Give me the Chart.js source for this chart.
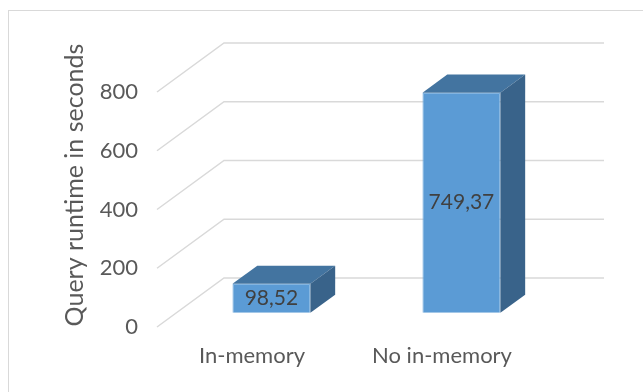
<!DOCTYPE html>
<html>
<head>
<meta charset="utf-8">
<script src="https://cdn.jsdelivr.net/npm/chart.js@4.4.0/dist/chart.umd.min.js"></script>
<style>
  body { margin: 0; background: #fff; overflow: hidden; }
  #wrap { position: relative; width: 643px; height: 392px; }
  #frame { position: absolute; left: 8px; top: 10px; width: 700px; height: 500px; border: 1px solid #d9d9d9; }
  canvas { position: absolute; left: 0; top: 0; }
</style>
</head>
<body>
<div id="wrap">
  <div id="frame"></div>
  <canvas id="myChart" width="643" height="392"></canvas>
</div>
<script>
// Query runtime data
const categories = ['In-memory', 'No in-memory'];
const runtimes = [98.52, 749.37];
const yTicks = [0, 200, 400, 600, 800];
const axisTitle = 'Query runtime in seconds';

// 3D look: depth of the floor, and where the bars sit inside it (0 = front, 1 = back wall)
const depth = { x: 67, y: -49 };
const barFront = 0.29;
const barBack = 0.66;

const font = 'Lato, "Open Sans", sans-serif';
const textGray = '#595959';

function formatValue(v) {
    return v.toFixed(2).replace('.', ',');
}

// Draws the walls, the axis title and the top/side faces of the bars
const box3d = {
    id: 'box3d',
    beforeDatasetsDraw(chart) {
        const { ctx, chartArea, scales } = chart;
        ctx.save();
        ctx.strokeStyle = '#d9d9d9';
        ctx.lineWidth = 1.5;
        yTicks.forEach(v => {
            const py = scales.y.getPixelForValue(v);
            ctx.beginPath();
            ctx.moveTo(chartArea.left, py);
            ctx.lineTo(chartArea.left + depth.x, py + depth.y);
            ctx.lineTo(chartArea.right + depth.x, py + depth.y);
            ctx.stroke();
        });

        // axis title, centred on the whole 3D height
        const midY = (chartArea.top + depth.y + chartArea.bottom) / 2;
        ctx.translate(75, midY);
        ctx.rotate(-Math.PI / 2);
        ctx.fillStyle = textGray;
        ctx.font = '25px ' + font;
        ctx.textAlign = 'center';
        ctx.textBaseline = 'middle';
        ctx.fillText(axisTitle, 0, 0);
        ctx.restore();

        // push the bars back into the box
        ctx.save();
        ctx.translate(depth.x * barFront, depth.y * barFront);
    },
    afterDatasetsDraw(chart) {
        const { ctx } = chart;
        const dx = depth.x * (barBack - barFront);
        const dy = depth.y * (barBack - barFront);
        chart.getDatasetMeta(0).data.forEach((bar, i) => {
            const l = bar.x - bar.width / 2;
            const r = bar.x + bar.width / 2;

            ctx.fillStyle = '#4374a0';
            ctx.beginPath();
            ctx.moveTo(l, bar.y);
            ctx.lineTo(l + dx, bar.y + dy);
            ctx.lineTo(r + dx, bar.y + dy);
            ctx.lineTo(r, bar.y);
            ctx.closePath();
            ctx.fill();

            ctx.fillStyle = '#39638a';
            ctx.beginPath();
            ctx.moveTo(r, bar.y);
            ctx.lineTo(r + dx, bar.y + dy);
            ctx.lineTo(r + dx, bar.base + dy);
            ctx.lineTo(r, bar.base);
            ctx.closePath();
            ctx.fill();

            ctx.fillStyle = '#404040';
            ctx.font = '21px ' + font;
            ctx.textAlign = 'center';
            ctx.textBaseline = 'middle';
            ctx.fillText(formatValue(runtimes[i]), bar.x, (bar.y + bar.base) / 2);
        });
        ctx.restore();
    }
};

const ctx = document.getElementById('myChart').getContext('2d');
const myChart = new Chart(ctx, {
    type: 'bar',
    data: {
        labels: categories,
        datasets: [{
            data: runtimes,
            backgroundColor: '#5b9bd5',
            borderColor: '#6ea8dc',
            borderWidth: 1,
            categoryPercentage: 1,
            barPercentage: 0.41,
            clip: false
        }]
    },
    options: {
        responsive: false,
        animation: false,
        layout: {
            padding: { top: 92, right: 106, left: 0, bottom: 0 }
        },
        plugins: {
            legend: { display: false },
            tooltip: { enabled: false }
        },
        scales: {
            x: {
                grid: { display: false, drawTicks: false },
                border: { display: false },
                ticks: { color: textGray, font: { family: font, size: 22 }, padding: 16 },
                afterFit(scale) { scale.height = 65; }
            },
            y: {
                min: 0,
                max: 800,
                grid: { display: false, drawTicks: false },
                border: { display: false },
                ticks: { stepSize: 200, color: textGray, font: { family: font, size: 22 }, padding: 19 },
                afterFit(scale) { scale.width = 157; }
            }
        }
    },
    plugins: [box3d]
});
</script>
</body>
</html>
